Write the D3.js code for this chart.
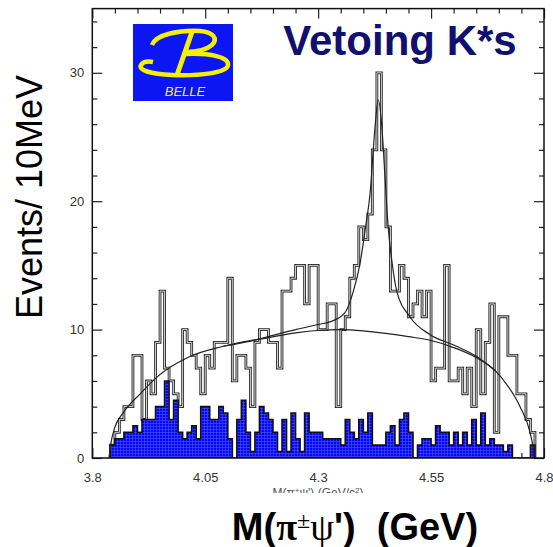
<!DOCTYPE html>
<head>
    <title>Vetoing K*s</title>
    <style>
      body { margin: 0; background: #fff; }
      text { font-family: "Liberation Sans", Arial, sans-serif; }
    </style>
</head>
<body>
</body>
<script src="https://cdn.jsdelivr.net/npm/d3@7"></script>
<script>

// histogram: 10 MeV bins, first filled bin starts at 3.84 GeV
const firstBin = 3.84;
const binWidth = 0.01;

// signal sample (open histogram), events per bin
const eventCounts = [
  1, 2, 3, 4, 4, 8, 8, 3, 6, 5, 9, 13, 7, 6, 5, 4, 10, 9, 8, 7,
  5, 8, 7, 9, 9, 9, 14, 6, 8, 8, 7, 4, 9, 10, 10, 9, 9, 7, 13, 13,
  14, 15, 15, 12, 15, 15, 10, 10, 12, 12, 4, 10, 11, 14, 15, 18, 17, 19, 24, 30,
  24, 18, 13, 13, 15, 14, 11, 12, 13, 11, 13, 6, 7, 7, 15, 6, 6, 7, 5, 7,
  4, 10, 5, 9, 12, 2, 11, 11, 8, 8, 5, 5, 3, 2
];

// sideband estimate (blue, scaled -> half units)
const sidebandCounts = [
  1, 1.5, 1.5, 2, 2, 2.5, 2, 3, 3, 3, 4, 4, 6, 3, 4.5, 2, 1.5, 2, 2.5, 1.5,
  4, 4, 3, 3, 4, 3.5, 1.5, 0, 3, 4.5, 2, 0.5, 2, 4, 3.5, 3, 2, 0.5, 3, 0.5,
  3.5, 1.5, 0.5, 3.5, 2, 2, 2, 1.5, 1.5, 1.5, 1.5, 1, 3, 2, 1.5, 3, 2, 3.5, 1, 1,
  1, 2, 2.5, 1, 3, 3.5, 2, 0, 1, 1.5, 1.5, 1, 2.5, 2, 2, 1, 2, 1, 2, 1,
  3, 1, 3.5, 1, 1.5, 1, 1, 0.5, 1, 0, 0, 0, 0, 1
];

// background fit curve
const bkgMass = [3.837, 3.841, 3.85, 3.868, 3.906, 3.943, 4.016, 4.09, 4.193, 4.25,
  4.304, 4.35, 4.40, 4.45, 4.50, 4.55, 4.60, 4.651, 4.692, 4.72, 4.747, 4.769, 4.776, 4.779];
const bkgValue = [0, 1.1, 2.4, 3.5, 5.0, 6.3, 7.9, 8.7, 9.4, 9.75,
  9.95, 10.0, 9.9, 9.7, 9.45, 9.15, 8.6, 7.8, 6.8, 5.6, 4.0, 2.0, 0.8, 0];

// total fit (background + Z(4430))
const totalMass = [4.09, 4.15, 4.20, 4.25, 4.30, 4.326, 4.359, 4.378, 4.393, 4.405,
  4.415, 4.426, 4.433, 4.441, 4.448, 4.455, 4.463, 4.474, 4.503, 4.548, 4.60, 4.651, 4.692];
const totalValue = [8.7, 9.1, 9.55, 10.0, 10.4, 10.6, 11.3, 13.0, 15.2, 18.0,
  20.6, 25.8, 27.9, 25.8, 21.9, 18.0, 15.4, 13.0, 11.0, 9.6, 8.8, 7.9, 6.8];

const xMajor = [3.8, 4.05, 4.3, 4.55, 4.8];
const xMinor = [3.85, 3.9, 3.95, 4.0, 4.1, 4.15, 4.2, 4.25, 4.35, 4.4, 4.45, 4.5, 4.6, 4.65, 4.7, 4.75];
const yMajor = [0, 10, 20, 30];
const yMinor = [2, 4, 6, 8, 12, 14, 16, 18, 22, 24, 26, 28, 32, 34];

const width = 553;
const height = 547;
const plotLeft = 92.3;
const plotRight = 544;
const plotTop = 8.6;
const plotBottom = 458;

const x = d3.scaleLinear().domain([3.8, 4.8]).range([plotLeft, plotRight]);
const y = d3.scaleLinear().domain([0, 35]).range([plotBottom, plotTop]);

const svg = d3.select("body").append("svg")
    .attr("width", width)
    .attr("height", height);

const defs = svg.append("defs");
const pat = defs.append("pattern")
    .attr("id", "grid")
    .attr("width", 3).attr("height", 3)
    .attr("patternUnits", "userSpaceOnUse");
pat.append("rect").attr("width", 3).attr("height", 3).attr("fill", "#0505f8");
pat.append("path").attr("d", "M0,0.5H3M0.5,0V3")
    .attr("stroke", "#4a55ff").attr("stroke-width", 0.6);

defs.append("clipPath").attr("id", "plot-clip")
  .append("rect")
    .attr("x", plotLeft).attr("y", plotTop)
    .attr("width", plotRight - plotLeft).attr("height", plotBottom - plotTop);

// ticks pointing inward on all four sides
function styleAxis(g) {
  g.select(".domain").remove();
  g.selectAll(".tick line").attr("stroke", "#222").attr("stroke-width", 1.2);
  g.selectAll("text").attr("fill", "#333").attr("font-size", 13)
    .attr("font-family", "Liberation Sans, Arial, sans-serif");
}

svg.append("g").attr("transform", `translate(${plotLeft},0)`)
    .call(d3.axisLeft(y).tickValues(yMajor).tickSize(-10).tickPadding(8).tickFormat(d3.format("d")))
    .call(styleAxis);
svg.append("g").attr("transform", `translate(${plotLeft},0)`)
    .call(d3.axisLeft(y).tickValues(yMinor).tickSize(-5).tickFormat(""))
    .call(styleAxis);
svg.append("g").attr("transform", `translate(${plotRight},0)`)
    .call(d3.axisRight(y).tickValues(yMajor).tickSize(-10).tickFormat(""))
    .call(styleAxis);
svg.append("g").attr("transform", `translate(${plotRight},0)`)
    .call(d3.axisRight(y).tickValues(yMinor).tickSize(-5).tickFormat(""))
    .call(styleAxis);
svg.append("g").attr("transform", `translate(0,${plotTop})`)
    .call(d3.axisTop(x).tickValues(xMajor).tickSize(-10).tickFormat(""))
    .call(styleAxis);
svg.append("g").attr("transform", `translate(0,${plotTop})`)
    .call(d3.axisTop(x).tickValues(xMinor).tickSize(-5).tickFormat(""))
    .call(styleAxis);
svg.append("g").attr("transform", `translate(0,${plotBottom})`)
    .call(d3.axisBottom(x).tickValues(xMajor).tickSize(-10).tickPadding(15).tickFormat(d3.format("")))
    .call(styleAxis);
svg.append("g").attr("transform", `translate(0,${plotBottom})`)
    .call(d3.axisBottom(x).tickValues(xMinor).tickSize(-5).tickFormat(""))
    .call(styleAxis);

const plot = svg.append("g").attr("clip-path", "url(#plot-clip)");

// step points: [lowEdge, value] per bin, closed to zero at both ends
function stepPoints(counts) {
  const pts = [[firstBin, 0]];
  counts.forEach((c, i) => pts.push([firstBin + i * binWidth, c]));
  pts.push([firstBin + counts.length * binWidth, 0]);
  return pts;
}

const stepLine = d3.line()
    .x(d => x(d[0]))
    .y(d => y(d[1]))
    .curve(d3.curveStepAfter);

// double-line outline like the scanned plot
const openPath = stepLine(stepPoints(eventCounts));
plot.append("path")
    .attr("d", openPath)
    .attr("fill", "none")
    .attr("stroke", "#2a2a2a")
    .attr("stroke-width", 2.8);
plot.append("path")
    .attr("d", openPath)
    .attr("fill", "none")
    .attr("stroke", "#fff")
    .attr("stroke-width", 0.8);

const stepArea = d3.area()
    .x(d => x(d[0]))
    .y0(y(0))
    .y1(d => y(d[1]))
    .curve(d3.curveStepAfter);

plot.append("path")
    .attr("d", stepArea(stepPoints(sidebandCounts)))
    .attr("fill", "url(#grid)")
    .attr("stroke", "#111")
    .attr("stroke-width", 1.6)
    .attr("stroke-linejoin", "miter");

const fitLine = d3.line()
    .x(d => x(d[0]))
    .y(d => y(d[1]))
    .curve(d3.curveMonotoneX);

plot.append("path")
    .attr("d", fitLine(d3.zip(bkgMass, bkgValue)))
    .attr("fill", "none")
    .attr("stroke", "#222")
    .attr("stroke-width", 1.2);
plot.append("path")
    .attr("d", fitLine(d3.zip(totalMass, totalValue)))
    .attr("fill", "none")
    .attr("stroke", "#222")
    .attr("stroke-width", 1.2);

// frame
svg.append("rect")
    .attr("x", plotLeft).attr("y", plotTop)
    .attr("width", plotRight - plotLeft).attr("height", plotBottom - plotTop)
    .attr("fill", "none")
    .attr("stroke", "#111")
    .attr("stroke-width", 1.5);

// small original axis title, half hidden under the slide label
svg.append("text")
    .attr("x", 318).attr("y", 497)
    .attr("text-anchor", "middle")
    .attr("font-size", 12)
    .attr("fill", "#555")
    .html('M(π<tspan dy="-4" font-size="8">+</tspan><tspan dy="4">ψ\') (GeV/c</tspan><tspan dy="-4" font-size="8">2</tspan><tspan dy="4">)</tspan>');
svg.append("rect")
    .attr("x", 240).attr("y", 493)
    .attr("width", 160).attr("height", 12)
    .attr("fill", "#fff");

// slide labels
svg.append("text")
    .attr("transform", "translate(42,197) rotate(-90)")
    .attr("text-anchor", "middle")
    .attr("font-size", 36)
    .attr("fill", "#000")
    .text("Events/ 10MeV");

const xTitle = svg.append("text")
    .attr("x", 355).attr("y", 540)
    .attr("text-anchor", "middle")
    .attr("font-size", 38)
    .attr("font-weight", "bold")
    .attr("fill", "#000");
xTitle.append("tspan").text("M(");
xTitle.append("tspan").attr("font-family", "Liberation Serif, serif").attr("font-weight", "bold").text("π");
xTitle.append("tspan").attr("font-family", "Liberation Serif, serif").attr("font-weight", "normal")
    .attr("font-size", 24).attr("dy", -12).text("±");
xTitle.append("tspan").attr("font-family", "Liberation Serif, serif").attr("font-weight", "normal")
    .attr("dy", 12).text("ψ");
xTitle.append("tspan").text("')\u00a0\u00a0(GeV)");

svg.append("text")
    .attr("x", 400).attr("y", 55)
    .attr("text-anchor", "middle")
    .attr("font-size", 42)
    .attr("font-weight", "bold")
    .attr("fill", "#10106e")
    .text("Vetoing K*s");

// Belle logo
const logo = svg.append("g");
logo.append("rect")
    .attr("x", 133).attr("y", 24)
    .attr("width", 100).attr("height", 77)
    .attr("fill", "#0b16f2");
logo.append("path")
    .attr("d", "M152,45 C156,34 180,30 200,31 C214,32 218,39 212,45 C206,50 196,52 186,52")
    .attr("fill", "none").attr("stroke", "#f5f000").attr("stroke-width", 4.5);
logo.append("path")
    .attr("d", "M186,54 C210,53 229,57 228,65 C227,73 200,76 172,75 C150,74 138,70 141,65 C143,62 148,61 153,62")
    .attr("fill", "none").attr("stroke", "#f5f000").attr("stroke-width", 4.5);
logo.append("path")
    .attr("d", "M192,32 L177,75")
    .attr("fill", "none").attr("stroke", "#f5f000").attr("stroke-width", 5);
logo.append("text")
    .attr("x", 185).attr("y", 96)
    .attr("text-anchor", "middle")
    .attr("font-size", 13)
    .attr("font-style", "italic")
    .attr("fill", "#f5f000")
    .text("BELLE");

</script>
